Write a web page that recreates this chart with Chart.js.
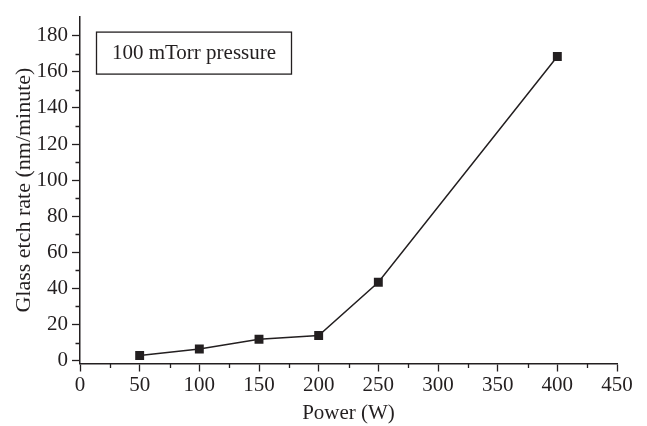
<!DOCTYPE html>
<html>
<head>
<meta charset="utf-8">
<script src="https://cdn.jsdelivr.net/npm/chart.js@4/dist/chart.umd.min.js"></script>
<style>
  html, body { margin: 0; padding: 0; background: #fff; }
</style>
</head>
<body>
<canvas id="chart" width="647" height="426"></canvas>
<script>
    // data
    const powerW = [50, 100, 150, 200, 250, 400];
    const etchRate = [2.8, 6.4, 11.8, 13.9, 43.4, 168.5];

    const xTicks = [0, 50, 100, 150, 200, 250, 300, 350, 400, 450];
    const xMinorTicks = [25, 75, 125, 175, 225, 275, 325, 375, 425];
    const yTicks = [0, 20, 40, 60, 80, 100, 120, 140, 160, 180];
    const yMinorTicks = [10, 30, 50, 70, 90, 110, 130, 150, 170];

    const noteText = '100 mTorr pressure';
    const xTitle = 'Power (W)';
    const yTitle = 'Glass etch rate (nm/minute)';

    const ink = '#231f20';
    const serif = '"Liberation Serif", "Times New Roman", serif';

    let minorTicks = {
        id: 'minorTicks',
        afterDraw(chart) {
            let ctx = chart.ctx;
            let x = chart.scales.x;
            let y = chart.scales.y;
            ctx.save();
            ctx.strokeStyle = ink;
            ctx.lineWidth = 1.3;
            ctx.beginPath();
            for (let v of xMinorTicks) {
                let px = Math.round(x.getPixelForValue(v)) + 0.5;
                ctx.moveTo(px, x.top);
                ctx.lineTo(px, x.top + 4.5);
            }
            for (let v of yMinorTicks) {
                let py = Math.round(y.getPixelForValue(v)) + 0.5;
                ctx.moveTo(y.right, py);
                ctx.lineTo(y.right - 4.5, py);
            }
            ctx.stroke();
            ctx.restore();
        }
    };

    let noteBox = {
        id: 'noteBox',
        afterDraw(chart) {
            let ctx = chart.ctx;
            let area = chart.chartArea;
            let bx = area.left + 16.5;
            let by = area.top + 15.5;
            ctx.save();
            ctx.strokeStyle = ink;
            ctx.lineWidth = 1.3;
            ctx.strokeRect(bx, by, 195, 42);
            ctx.fillStyle = ink;
            ctx.font = '21px ' + serif;
            ctx.textAlign = 'center';
            ctx.textBaseline = 'middle';
            ctx.fillText(noteText, bx + 97.5, by + 21);
            ctx.restore();
        }
    };

    new Chart(document.getElementById('chart'), {
        type: 'line',
        data: {
            datasets: [{
                data: powerW.map((p, i) => ({x: p, y: etchRate[i]})),
                borderColor: ink,
                borderWidth: 1.5,
                backgroundColor: ink,
                pointStyle: 'rect',
                pointRadius: 6.3,
                pointBorderWidth: 0,
                tension: 0,
                fill: false,
            }]
        },
        options: {
            responsive: false,
            animation: false,
            layout: {
                padding: {top: 6, right: 30, bottom: 0, left: 0},
            },
            plugins: {
                legend: {display: false},
                tooltip: {enabled: false},
            },
            scales: {
                x: {
                    type: 'linear',
                    min: 0,
                    max: 450,
                    afterBuildTicks: (scale) => {
                        scale.ticks = xTicks.map(v => ({value: v}));
                    },
                    afterFit: (scale) => {
                        scale.height = 62.5;
                    },
                    border: {display: true, color: ink, width: 1.5},
                    grid: {
                        display: true,
                        drawOnChartArea: false,
                        drawTicks: true,
                        tickLength: 8,
                        tickColor: ink,
                        tickWidth: 1.3,
                    },
                    ticks: {
                        color: ink,
                        font: {family: serif, size: 21},
                        padding: 1,
                        maxRotation: 0,
                        autoSkip: false,
                    },
                    title: {
                        display: true,
                        text: xTitle,
                        color: ink,
                        font: {family: serif, size: 21},
                        padding: {top: 0, bottom: 0},
                    },
                },
                y: {
                    type: 'linear',
                    min: -1.6,
                    max: 190.6,
                    afterBuildTicks: (scale) => {
                        scale.ticks = yTicks.map(v => ({value: v}));
                    },
                    afterFit: (scale) => {
                        scale.width = 80;
                    },
                    border: {display: true, color: ink, width: 1.5},
                    grid: {
                        display: true,
                        drawOnChartArea: false,
                        drawTicks: true,
                        tickLength: 8,
                        tickColor: ink,
                        tickWidth: 1.3,
                    },
                    ticks: {
                        color: ink,
                        font: {family: serif, size: 21},
                        padding: 4,
                        autoSkip: false,
                    },
                    title: {
                        display: true,
                        text: yTitle,
                        color: ink,
                        font: {family: serif, size: 22},
                        padding: {top: 11, bottom: 0},
                    },
                },
            },
        },
        plugins: [minorTicks, noteBox],
    });
</script>
</body>
</html>
